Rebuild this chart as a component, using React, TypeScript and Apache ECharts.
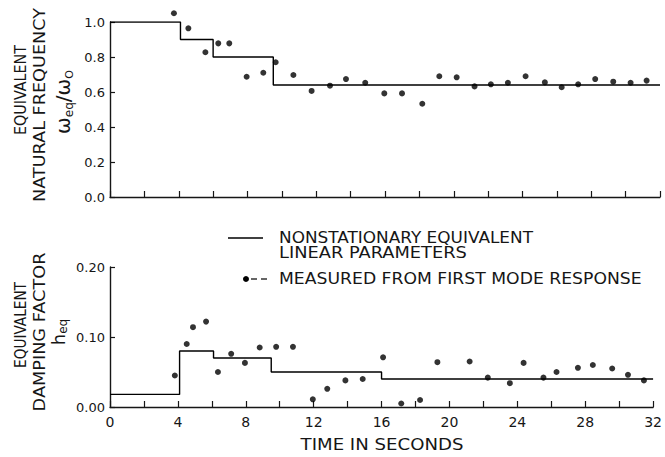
import { useEffect, useRef } from 'react';
import * as echarts from 'echarts';

// ---------- DATA ----------
// Nonstationary equivalent linear parameters (step functions): breakpoints in seconds
const freqStepTimes = [0, 4.1, 6.0, 9.5, 32];
const freqStepValues = [1.0, 0.9, 0.8, 0.64, 0.64];
const dampStepTimes = [0, 4.1, 6.1, 9.5, 16, 32];
const dampStepValues = [0.018, 0.08, 0.07, 0.05, 0.04, 0.04];

// Measured from first mode response
const freqTimes = [3.72, 4.56, 5.55, 6.3, 6.94, 7.95, 8.92, 9.64, 10.67, 11.73, 12.8, 13.73, 14.85, 15.96, 16.99, 18.17, 19.16, 20.17, 21.21, 22.16, 23.15, 24.18, 25.3, 26.28, 27.24, 28.23, 29.28, 30.29, 31.22];
const freqValues = [1.05, 0.964, 0.827, 0.878, 0.878, 0.687, 0.71, 0.77, 0.697, 0.606, 0.636, 0.674, 0.653, 0.592, 0.592, 0.533, 0.69, 0.684, 0.632, 0.644, 0.653, 0.69, 0.655, 0.627, 0.644, 0.674, 0.659, 0.653, 0.665];
const dampTimes = [3.82, 4.52, 4.89, 5.66, 6.36, 7.14, 7.95, 8.82, 9.79, 10.78, 11.95, 12.8, 13.87, 14.89, 16.09, 17.16, 18.27, 19.29, 21.19, 22.26, 23.56, 24.37, 25.54, 26.31, 27.57, 28.45, 29.59, 30.52, 31.46];
const dampValues = [0.045, 0.09, 0.114, 0.122, 0.05, 0.076, 0.063, 0.085, 0.086, 0.086, 0.011, 0.026, 0.038, 0.04, 0.071, 0.005, 0.01, 0.064, 0.065, 0.042, 0.034, 0.063, 0.042, 0.05, 0.056, 0.06, 0.055, 0.046, 0.038];

// Axis ranges / ticks
const timeMin = 0;
const timeMax = 32;
const timeTickStep = 2;
const timeLabelStep = 4;
const freqAxis = { min: 0, max: 1.0, step: 0.2, decimals: 1 };
const dampAxis = { min: 0, max: 0.2, step: 0.1, decimals: 2 };

// Texts
const freqTitle = ['EQUIVALENT', 'NATURAL FREQUENCY'];
const dampTitle = ['EQUIVALENT', 'DAMPING FACTOR'];
const timeTitle = 'TIME IN SECONDS';
const legendLine1 = ['NONSTATIONARY EQUIVALENT', 'LINEAR PARAMETERS'];
const legendScatter = 'MEASURED FROM FIRST MODE RESPONSE';

// ---------- STYLE ----------
const FAMILY = '"DejaVu Sans", sans-serif';
const INK = '#161616';

function textWidth(text: string, font: string): number {
  const c = document.createElement('canvas').getContext('2d');
  if (!c) return text.length * 9;
  c.font = font;
  return c.measureText(text).width;
}

function fitText(text: string, size: number, x: number, y: number, length: number, opts: any = {}) {
  const font = `${size}px ${FAMILY}`;
  const w = textWidth(text, font);
  return {
    type: 'text',
    x,
    y,
    rotation: opts.rotation || 0,
    scaleX: length / w,
    style: {
      text,
      font,
      fill: INK,
      align: opts.align || 'left',
      verticalAlign: 'middle',
      textAlign: opts.align || 'left',
      textVerticalAlign: 'middle',
    },
  };
}

function subLabel(parts: { t: string; size: number; dy: number }[], cx: number, cy: number) {
  const widths = parts.map((p) => textWidth(p.t, `${p.size}px ${FAMILY}`));
  const total = widths.reduce((a, b) => a + b, 0);
  let pos = -total / 2;
  const children = parts.map((p, i) => {
    const el = {
      type: 'text',
      x: pos,
      y: p.dy,
      style: {
        text: p.t,
        font: `${p.size}px ${FAMILY}`,
        fill: INK,
        align: 'left',
        verticalAlign: 'middle',
        textAlign: 'left',
        textVerticalAlign: 'middle',
      },
    };
    pos += widths[i];
    return el;
  });
  return { type: 'group', x: cx, y: cy, rotation: Math.PI / 2, children };
}

const zip = (xs: number[], ys: number[]) => xs.map((x, i) => [x, ys[i]]);

function buildOption(): any {
  const axisLine = { show: true, lineStyle: { color: INK, width: 1.4 } };
  const xAxisBase = {
    type: 'value',
    min: timeMin,
    max: timeMax,
    interval: timeTickStep,
    axisLine,
    axisTick: { show: true, inside: true, length: 6, lineStyle: { color: INK, width: 1.2 } },
    splitLine: { show: false },
  };
  const yAxisBase = (ax: typeof freqAxis, grid: number) => ({
    type: 'value',
    gridIndex: grid,
    min: ax.min,
    max: ax.max,
    interval: ax.step,
    axisLine,
    axisTick: { show: true, inside: true, length: 5, lineStyle: { color: INK, width: 1.2 } },
    splitLine: { show: false },
    axisLabel: {
      formatter: (v: number) => v.toFixed(ax.decimals),
      color: INK,
      fontFamily: FAMILY,
      fontSize: 13,
      margin: 5,
    },
  });

  const lineStyle = { color: '#000', width: 1.4 };
  const dot = { color: '#000' };

  return {
    animation: false,
    backgroundColor: '#fff',
    grid: [
      { left: 110, top: 22, width: 550, height: 175 },
      { left: 110, top: 267, width: 550, height: 140 },
    ],
    xAxis: [
      { ...xAxisBase, gridIndex: 0, axisLabel: { show: false } },
      {
        ...xAxisBase,
        gridIndex: 1,
        axisLabel: {
          formatter: (v: number) => (Math.round(v) % timeLabelStep === 0 ? String(Math.round(v)) : ''),
          color: INK,
          fontFamily: FAMILY,
          fontSize: 14,
          margin: 8,
        },
      },
    ],
    yAxis: [yAxisBase(freqAxis, 0), yAxisBase(dampAxis, 1)],
    series: [
      {
        type: 'line',
        xAxisIndex: 0,
        yAxisIndex: 0,
        step: 'end',
        symbol: 'none',
        lineStyle,
        data: zip(freqStepTimes, freqStepValues),
      },
      {
        type: 'scatter',
        xAxisIndex: 0,
        yAxisIndex: 0,
        symbolSize: 6,
        clip: false,
        itemStyle: dot,
        data: zip(freqTimes, freqValues),
      },
      {
        type: 'line',
        xAxisIndex: 1,
        yAxisIndex: 1,
        step: 'end',
        symbol: 'none',
        lineStyle,
        data: zip(dampStepTimes, dampStepValues),
      },
      {
        type: 'scatter',
        xAxisIndex: 1,
        yAxisIndex: 1,
        symbolSize: 6,
        clip: false,
        itemStyle: dot,
        data: zip(dampTimes, dampValues),
      },
    ],
    graphic: [
      // y titles (top)
      fitText(freqTitle[0], 16, 21, 90, 90, { rotation: Math.PI / 2, align: 'center' }),
      fitText(freqTitle[1], 16, 39, 105, 194, { rotation: Math.PI / 2, align: 'center' }),
      subLabel(
        [
          { t: 'ω', size: 20, dy: 0 },
          { t: 'eq', size: 12, dy: 6 },
          { t: '/ω', size: 20, dy: 0 },
          { t: 'O', size: 11, dy: 6 },
        ],
        63,
        102
      ),
      // y titles (bottom)
      fitText(dampTitle[0], 16, 21, 325, 86, { rotation: Math.PI / 2, align: 'center' }),
      fitText(dampTitle[1], 16, 39, 332, 159, { rotation: Math.PI / 2, align: 'center' }),
      subLabel(
        [
          { t: 'h', size: 18, dy: 0 },
          { t: 'eq', size: 12, dy: 5 },
        ],
        58,
        332
      ),
      // x title
      fitText(timeTitle, 15, 382, 445, 163, { align: 'center' }),
      // legend
      { type: 'line', shape: { x1: 228, y1: 238, x2: 263, y2: 238 }, style: { stroke: '#000', lineWidth: 1.4 } },
      fitText(legendLine1[0], 15, 279, 238, 254),
      fitText(legendLine1[1], 15, 279, 253, 188),
      { type: 'circle', shape: { cx: 246, cy: 279, r: 3 }, style: { fill: '#000' } },
      { type: 'line', shape: { x1: 251, y1: 279, x2: 257, y2: 279 }, style: { stroke: '#000', lineWidth: 1.2 } },
      { type: 'line', shape: { x1: 261, y1: 279, x2: 267, y2: 279 }, style: { stroke: '#000', lineWidth: 1.2 } },
      fitText(legendScatter, 15, 279, 279, 363),
    ],
  };
}

export default function App() {
  const ref = useRef<HTMLDivElement>(null);
  useEffect(() => {
    if (!ref.current) return;
    const chart = echarts.init(ref.current, null, { renderer: 'svg' });
    chart.setOption(buildOption());
    return () => chart.dispose();
  }, []);
  return (
    <div
      ref={ref}
      style={{ position: 'fixed', left: 0, top: 0, width: 665, height: 457, background: '#fff' }}
    />
  );
}
